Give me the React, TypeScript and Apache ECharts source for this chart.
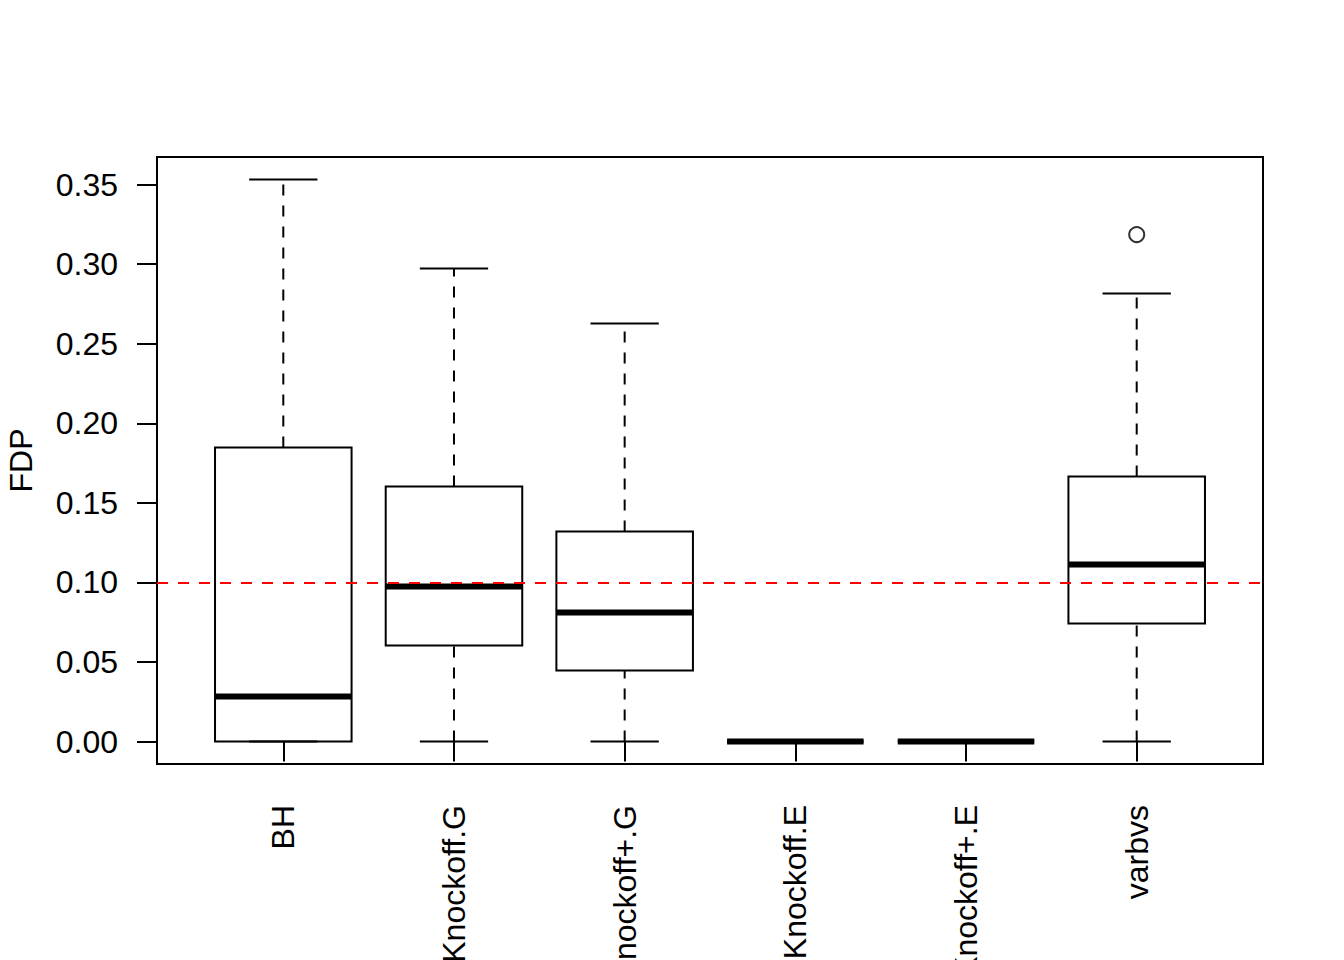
import React, { useEffect, useRef } from "react";
import * as echarts from "echarts";

const categories = ["BH", "Knockoff.G", "Knockoff+.G", "Knockoff.E", "Knockoff+.E", "varbvs"];
// [min, Q1, median, Q3, max]
const boxStats = [
  [0, 0, 0.0283, 0.1847, 0.3532],
  [0, 0.0603, 0.0974, 0.1602, 0.2972],
  [0, 0.0446, 0.0811, 0.132, 0.2627],
  [0, 0, 0, 0, 0],
  [0, 0, 0, 0, 0],
  [0, 0.0741, 0.1112, 0.1665, 0.2815],
];
const outliers = [[6, 0.3186]];
const yTicks = [0, 0.05, 0.1, 0.15, 0.2, 0.25, 0.3, 0.35];
const xTicks = [1, 2, 3, 4, 5, 6];
const targetFDR = 0.1;

const FONT = "Liberation Sans, Arial, Helvetica, sans-serif";
const FS = 32;

export default function App() {
  const ref = useRef<HTMLDivElement>(null);
  useEffect(() => {
    if (!ref.current) return;
    const chart = echarts.init(ref.current, undefined, { renderer: "svg" });
    const dataMax = 0.3532;
    const pad = dataMax * 0.04;
    const boxData = boxStats.map((s, i) => [i + 1, ...s]);
    const dash = [11, 10];
    chart.setOption({
      animation: false,
      backgroundColor: "#fff",
      textStyle: { fontFamily: FONT },
      grid: {
        left: 157,
        top: 157,
        width: 1106,
        height: 607,
        containLabel: false,
        outerBoundsMode: "none",
        show: true,
        borderColor: "#000",
        borderWidth: 2,
        backgroundColor: "transparent",
      },
      xAxis: {
        type: "value",
        min: 0.26,
        max: 6.74,
        axisLine: { show: false },
        splitLine: { show: false },
        axisTick: {
          show: true,
          customValues: xTicks,
          length: 20,
          lineStyle: { color: "#000", width: 2 },
        },
        axisLabel: {
          show: true,
          customValues: xTicks,
          rotate: 90,
          margin: 41,
          fontSize: FS,
          color: "#000",
          fontFamily: FONT,
          formatter: (v: number) => categories[Math.round(v) - 1] ?? "",
        },
      },
      yAxis: {
        type: "value",
        min: -pad,
        max: dataMax + pad,
        name: "FDP",
        nameLocation: "middle",
        nameGap: 120,
        nameRotate: 90,
        nameTextStyle: { fontSize: FS, color: "#000", fontFamily: FONT },
        axisLine: { show: false },
        splitLine: { show: false },
        axisTick: {
          show: true,
          customValues: yTicks,
          length: 20,
          lineStyle: { color: "#000", width: 2 },
        },
        axisLabel: {
          show: true,
          customValues: yTicks,
          margin: 39,
          fontSize: FS,
          color: "#000",
          fontFamily: FONT,
          formatter: (v: number) => v.toFixed(2),
        },
      },
      series: [
        {
          type: "custom",
          data: boxData,
          encode: { x: 0, y: [1, 2, 3, 4, 5] },
          renderItem: (params: any, api: any) => {
            const x = api.value(0);
            const mn = api.value(1);
            const q1 = api.value(2);
            const md = api.value(3);
            const q3 = api.value(4);
            const mx = api.value(5);
            const c = (xx: number, yy: number) => api.coord([xx, yy]);
            const pMin = c(x, mn);
            const pQ1 = c(x, q1);
            const pQ3 = c(x, q3);
            const pMax = c(x, mx);
            const bl = c(x - 0.4, q3);
            const br = c(x + 0.4, q1);
            const capL = c(x - 0.2, 0)[0];
            const capR = c(x + 0.2, 0)[0];
            const medL = c(x - 0.4, md);
            const medR = c(x + 0.4, md);
            const thin = { stroke: "#000", lineWidth: 2, fill: "none" };
            const children: any[] = [];
            if (pQ3[1] !== pMax[1]) {
              children.push({
                type: "line",
                shape: { x1: pQ3[0], y1: pQ3[1], x2: pMax[0], y2: pMax[1] },
                style: { ...thin, lineDash: dash },
              });
            }
            if (pQ1[1] !== pMin[1]) {
              children.push({
                type: "line",
                shape: { x1: pMin[0], y1: pMin[1], x2: pQ1[0], y2: pQ1[1] },
                style: { ...thin, lineDash: dash },
              });
            }
            children.push({
              type: "line",
              shape: { x1: capL, y1: pMax[1], x2: capR, y2: pMax[1] },
              style: thin,
            });
            children.push({
              type: "line",
              shape: { x1: capL, y1: pMin[1], x2: capR, y2: pMin[1] },
              style: thin,
            });
            children.push({
              type: "rect",
              shape: { x: bl[0], y: bl[1], width: br[0] - bl[0], height: br[1] - bl[1] },
              style: thin,
            });
            children.push({
              type: "line",
              shape: { x1: medL[0], y1: medL[1], x2: medR[0], y2: medR[1] },
              style: { stroke: "#000", lineWidth: 6, lineCap: "butt" },
            });
            return { type: "group", children };
          },
          markLine: {
            silent: true,
            symbol: "none",
            label: { show: false },
            lineStyle: { color: "#ff0000", width: 2, type: dash },
            data: [{ yAxis: targetFDR }],
          },
          z: 2,
        },
        {
          type: "scatter",
          data: outliers,
          symbol: "circle",
          symbolSize: 15,
          itemStyle: { color: "transparent", borderColor: "#000", borderWidth: 2 },
          z: 3,
        },
      ],
    });
    return () => chart.dispose();
  }, []);
  return (
    <div
      ref={ref}
      style={{ position: "fixed", left: 0, top: 0, width: 1344, height: 960 }}
    />
  );
}
